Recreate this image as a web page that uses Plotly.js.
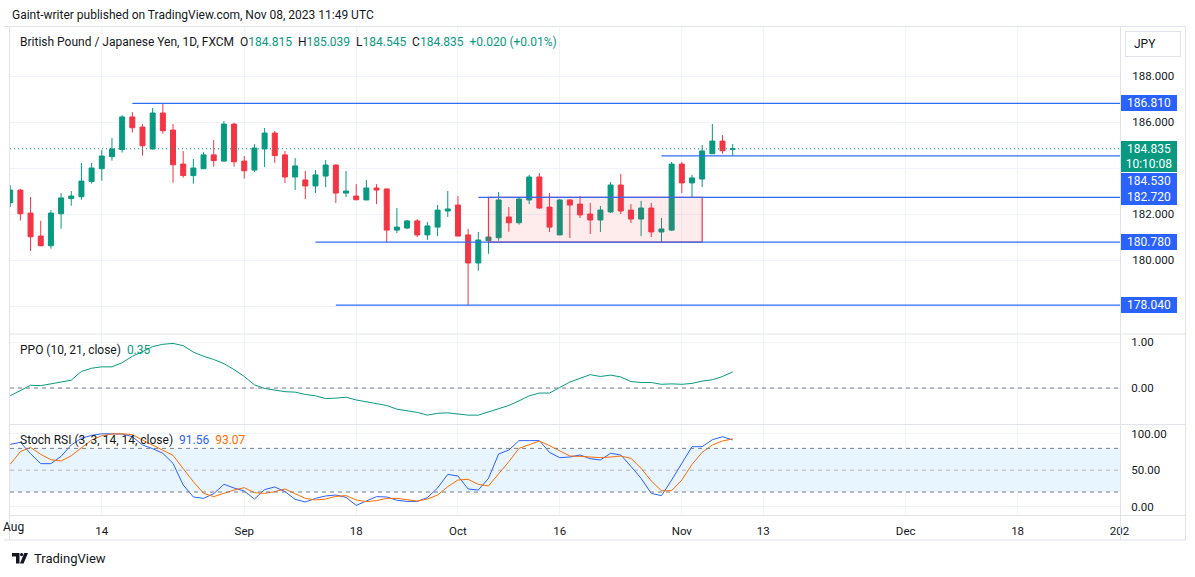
<!DOCTYPE html>
<html><head><meta charset="utf-8">
<script src="https://cdn.plot.ly/plotly-3.0.1.min.js"></script>
<style>html,body{margin:0;padding:0;background:#fff;}#chart{width:1195px;height:577px;}</style>
</head><body><div id="chart"></div>
<script>
// ---------------- data ----------------
const dates = [
 '2023-08-01','2023-08-02','2023-08-03','2023-08-04','2023-08-07','2023-08-08','2023-08-09','2023-08-10','2023-08-11',
 '2023-08-14','2023-08-15','2023-08-16','2023-08-17','2023-08-18','2023-08-21','2023-08-22','2023-08-23','2023-08-24',
 '2023-08-25','2023-08-28','2023-08-29','2023-08-30','2023-08-31',
 '2023-09-01','2023-09-04','2023-09-05','2023-09-06','2023-09-07','2023-09-08','2023-09-11','2023-09-12','2023-09-13',
 '2023-09-14','2023-09-15','2023-09-18','2023-09-19','2023-09-20','2023-09-21','2023-09-22','2023-09-25','2023-09-26',
 '2023-09-27','2023-09-28','2023-09-29',
 '2023-10-02','2023-10-03','2023-10-04','2023-10-05','2023-10-06','2023-10-09','2023-10-10','2023-10-11','2023-10-12',
 '2023-10-13','2023-10-16','2023-10-17','2023-10-18','2023-10-19','2023-10-20','2023-10-23','2023-10-24','2023-10-25',
 '2023-10-26','2023-10-27','2023-10-30','2023-10-31',
 '2023-11-01','2023-11-02','2023-11-03','2023-11-06','2023-11-07','2023-11-08'
];
const openP = [182.49,183.04,182.04,181.04,180.62,182.01,182.67,182.75,183.41,183.97,184.49,184.80,186.22,185.78,184.83,186.39,185.65,184.17,183.67,183.97,184.57,184.30,185.91,
 184.30,183.91,184.83,185.52,184.57,183.61,183.48,183.22,183.65,184.13,182.91,182.78,182.61,183.13,183.09,181.30,181.39,181.70,181.09,181.43,182.13,
 182.39,181.09,179.87,180.84,180.97,181.87,181.62,182.61,183.61,182.30,181.09,182.61,182.43,182.00,181.74,182.09,183.26,182.17,181.78,182.26,181.22,181.30,
 184.17,183.35,183.52,184.62,185.17,184.815];
const highP = [183.25,183.09,182.74,181.70,182.17,182.91,183.00,184.22,184.22,184.78,185.30,186.30,186.43,185.91,186.61,186.80,185.91,184.74,184.39,184.69,185.22,186.04,185.96,
 184.52,185.04,185.74,185.61,184.74,184.43,183.87,183.91,184.35,184.15,183.87,183.30,183.48,183.30,183.09,182.26,181.74,181.78,181.65,182.39,183.00,
 182.78,181.35,181.22,181.22,182.96,182.30,182.74,183.70,183.78,182.91,182.65,182.65,182.78,182.48,182.35,183.39,183.74,182.43,182.57,182.48,181.83,184.26,
 184.26,183.70,185.00,185.91,185.43,185.039];
const lowP = [182.30,181.71,180.39,180.60,180.49,181.36,182.36,182.62,183.32,183.45,184.32,184.67,185.54,184.54,184.80,185.49,183.36,183.58,183.32,183.95,184.06,184.27,184.06,
 183.54,183.83,184.04,184.22,183.35,183.04,182.65,182.91,183.17,182.48,182.74,182.60,182.61,182.43,180.77,181.17,181.35,181.00,180.87,181.04,181.87,
 181.03,178.04,179.53,180.27,180.84,181.23,181.54,182.43,182.22,181.22,181.09,180.96,181.83,181.13,181.22,182.04,182.00,181.61,181.04,181.00,180.74,181.26,
 182.91,182.70,183.17,184.62,184.62,184.545];
const closeP = [183.04,182.01,181.01,180.62,182.04,182.70,182.78,183.43,184.00,184.52,184.83,186.22,185.75,184.97,186.39,185.62,184.14,183.67,184.00,184.57,184.32,185.91,184.27,
 183.88,184.87,185.52,184.54,183.61,184.09,183.22,183.70,184.13,182.91,183.00,182.62,183.13,183.04,181.30,181.43,181.70,181.09,181.48,182.17,182.22,
 181.04,179.87,180.87,181.00,182.61,181.62,182.65,183.61,182.26,181.43,182.61,182.39,181.96,181.74,182.17,183.26,182.13,181.78,182.26,181.22,181.35,184.17,
 183.35,183.57,184.74,185.17,184.75,184.835];
const ppo = [-0.17,-0.05,0.06,0.05,0.09,0.12,0.17,0.36,0.43,0.46,0.46,0.55,0.69,0.79,0.90,0.95,0.97,0.92,0.78,0.69,0.62,0.53,0.40,
 0.25,0.07,-0.01,-0.05,-0.08,-0.09,-0.14,-0.17,-0.23,-0.22,-0.20,-0.26,-0.30,-0.33,-0.38,-0.46,-0.49,-0.53,-0.59,-0.55,-0.54,
 -0.56,-0.59,-0.59,-0.52,-0.44,-0.38,-0.28,-0.17,-0.11,-0.11,0.01,0.13,0.21,0.29,0.25,0.28,0.24,0.14,0.12,0.12,0.08,0.09,
 0.08,0.10,0.15,0.18,0.25,0.35];
const stochK = [85.5,88.3,72.7,59.0,59.0,69.0,84.6,93.8,97.9,100,100,99.7,96.1,84.6,79.6,73.2,59.4,29.7,13.2,11.3,17.8,30.6,25.5,
 21.4,10.4,23.3,27.0,20.6,10.0,6.3,11.3,14.6,15.9,12.7,1.7,8.2,13.7,13.2,8.7,7.2,7.2,12.3,25.6,44.3,
 42.0,24.2,22.8,38.8,72.3,77.7,90.6,90.6,90.6,74.5,67.2,68.1,70.9,65.8,64.0,73.2,70.9,55.3,38.8,18.2,15.0,36.5,
 59.4,82.3,82.3,91.9,96.0,91.56];
const stochD = [58.1,75.5,81.4,71.8,64.4,62.6,69.9,81.0,91.5,97.4,99.7,100,98.8,91.5,84.6,77.7,70.4,52.1,34.2,18.2,13.7,18.2,22.8,
 26.0,19.1,18.2,20.5,24.2,17.3,11.3,9.1,10.4,14.1,15.0,9.1,6.8,8.2,11.3,11.3,9.9,7.6,10.4,15.9,27.4,
 36.5,37.5,30.6,28.4,44.3,61.7,80.0,85.5,90.1,83.7,76.4,69.5,69.0,67.7,67.2,68.1,69.5,66.3,52.6,35.2,21.9,21.9,
 36.5,58.0,74.5,84.6,90.1,93.07];
const tickDates  = ['2023-08-14','2023-09-01','2023-09-18','2023-10-02','2023-10-16','2023-11-01','2023-11-13','2023-12-01','2023-12-18','2024-01-01'];
const tickLabels = ['14','Sep','18','Oct','16','Nov','13','Dec','18','202'];
const levelPrices = [186.81, 184.53, 182.72, 180.78, 178.04];
const levelStarts = ['2023-08-17','2023-10-30','2023-10-04','2023-09-12','2023-09-14'];
const zoneStart = '2023-10-05', zoneEnd = '2023-11-03', zoneLow = 180.78, zoneHigh = 182.72;
const priceTicks = [178,180,182,184,186,188];
const priceTickText = ['','180.000','182.000','','186.000','188.000'];

// ---------------- helpers ----------------
const calendar = [];
(function(){ let t = Date.UTC(2023,7,1); const end = Date.UTC(2024,0,12);
  while (t <= end) { const d = new Date(t), wd = d.getUTCDay();
    if (wd !== 0 && wd !== 6) calendar.push(d.toISOString().slice(0,10)); t += 86400000; } })();
const idx = s => calendar.indexOf(s);
const xs = dates.map(idx);

const L = 10, R = 1120, T = 28, B = 515;
const px2x = px => (px - L) / (R - L);
const px2y = py => (B - py) / (B - T);
const xRange = [-0.02, 109.06];

const GREEN = '#089981', RED = '#f23645', BLUE = '#2962ff', ORANGE = '#ff6d00', TXT = '#131722', SEP = '#e0e3eb', GRID = '#f0f3fa';

// ---------------- traces ----------------
const traces = [
  { type:'candlestick', x: xs, open: openP, high: highP, low: lowP, close: closeP, xaxis:'x', yaxis:'y',
    increasing:{ line:{color:GREEN, width:1}, fillcolor:GREEN },
    decreasing:{ line:{color:RED, width:1}, fillcolor:RED },
    whiskerwidth:0, hoverinfo:'skip', showlegend:false },
  { type:'scatter', mode:'lines', x: xs, y: ppo, xaxis:'x', yaxis:'y2', line:{color:GREEN, width:1}, hoverinfo:'skip', showlegend:false },
  { type:'scatter', mode:'lines', x: xs, y: stochK, xaxis:'x', yaxis:'y3', line:{color:BLUE, width:1}, hoverinfo:'skip', showlegend:false },
  { type:'scatter', mode:'lines', x: xs, y: stochD, xaxis:'x', yaxis:'y3', line:{color:ORANGE, width:1}, hoverinfo:'skip', showlegend:false }
];

// ---------------- shapes ----------------
const shapes = [];
shapes.push({type:'rect', xref:'paper', yref:'y3', x0:0, x1:1, y0:20, y1:80, fillcolor:'rgba(33,150,243,0.1)', line:{width:0}, layer:'below'});
shapes.push({type:'rect', xref:'x', yref:'y', x0:idx(zoneStart), x1:idx(zoneEnd), y0:zoneLow, y1:zoneHigh,
  fillcolor:'rgba(242,54,69,0.1)', line:{color:RED, width:1.2}, layer:'above'});
levelPrices.forEach((p,i)=>{
  shapes.push({type:'line', xref:'x', yref:'y', x0:idx(levelStarts[i]), x1:xRange[1], y0:p, y1:p, line:{color:'#2f6cf5', width:1.3}});
});
shapes.push({type:'line', xref:'paper', yref:'y', x0:0, x1:1, y0:closeP[closeP.length-1], y1:closeP[closeP.length-1], line:{color:GREEN, width:1, dash:'1px,3px'}});
shapes.push({type:'line', xref:'paper', yref:'y2', x0:0, x1:1, y0:0, y1:0, line:{color:'#787b86', width:1, dash:'4px,4px'}});
shapes.push({type:'line', xref:'paper', yref:'y3', x0:0, x1:1, y0:80, y1:80, line:{color:'#787b86', width:1, dash:'4px,4px'}});
shapes.push({type:'line', xref:'paper', yref:'y3', x0:0, x1:1, y0:20, y1:20, line:{color:'#787b86', width:1, dash:'4px,4px'}});
shapes.push({type:'line', xref:'paper', yref:'y3', x0:0, x1:1, y0:50, y1:50, line:{color:'rgba(120,123,134,0.5)', width:1, dash:'4px,4px'}});
const sepLine = (x0,y0,x1,y1) => ({type:'line', xref:'paper', yref:'paper', x0:px2x(x0), y0:px2y(y0), x1:px2x(x1), y1:px2y(y1), line:{color:SEP, width:1}, layer:'above'});
shapes.push(sepLine(4,26.5,1186,26.5));
shapes.push(sepLine(9.5,26.5,9.5,540));
shapes.push(sepLine(1185.5,26.5,1185.5,540));
shapes.push(sepLine(4,540,1186,540));
shapes.push(sepLine(1120.5,26.5,1120.5,540));
shapes.push(sepLine(9.5,334,1185.5,334));
shapes.push(sepLine(9.5,424.5,1185.5,424.5));
shapes.push(sepLine(9.5,515.5,1185.5,515.5));
const P = (x,y) => px2x(x).toFixed(5) + ',' + px2y(y).toFixed(5);
shapes.push({type:'path', xref:'paper', yref:'paper', path:'M'+P(12,553)+' L'+P(19.5,553)+' L'+P(19.5,563.5)+' L'+P(16,563.5)+' L'+P(16,556.5)+' L'+P(12,556.5)+' Z', fillcolor:TXT, line:{width:0}});
shapes.push({type:'circle', xref:'paper', yref:'paper', x0:px2x(20), x1:px2x(23.2), y0:px2y(553), y1:px2y(556.2), fillcolor:TXT, line:{width:0}});
shapes.push({type:'path', xref:'paper', yref:'paper', path:'M'+P(24.3,553)+' L'+P(28,553)+' L'+P(23.6,563.5)+' L'+P(19.9,563.5)+' Z', fillcolor:TXT, line:{width:0}});

// ---------------- annotations ----------------
const FONT = 'Roboto, "Open Sans", sans-serif';
const last = closeP.length - 1;
const g = s => '<span style="color:'+GREEN+'">'+s+'</span>';
const sp = '\u00a0\u00a0';
const annotations = [];
const txt = (text, px, py, size, extra) => Object.assign({xref:'paper', yref:'paper', x:px2x(px), y:px2y(py), xanchor:'left', yanchor:'middle',
  text:text, showarrow:false, font:{family:FONT, size:size, color:TXT}}, extra||{});
annotations.push(txt('Gaint-writer published on TradingView.com, Nov 08, 2023 11:49 UTC', 10, 14.5, 12));
annotations.push(txt('British Pound / Japanese Yen, 1D, FXCM'+sp+'O'+g(openP[last].toFixed(3))+sp+'H'+g(highP[last].toFixed(3))+sp+'L'+g(lowP[last].toFixed(3))+sp+'C'+g(closeP[last].toFixed(3))+sp+g('+0.020 (+0.01%)'), 18, 42, 12));
annotations.push(txt('PPO (10, 21, close)'+sp+g(ppo[last].toFixed(2)), 18, 350, 12));
annotations.push(txt('Stoch RSI (3, 3, 14, 14, close)'+sp+'<span style="color:'+BLUE+'">'+stochK[last].toFixed(2)+'</span>'+sp+'<span style="color:'+ORANGE+'">'+stochD[last].toFixed(2)+'</span>', 18, 440, 12));
annotations.push(txt('TradingView', 32, 558.5, 13));
annotations.push(txt('Aug', 1, 527, 12));
annotations.push({xref:'paper', yref:'paper', x:px2x(1125), y:px2y(44), xanchor:'left', yanchor:'middle', text:'\u00a0\u00a0JPY', align:'left',
  width:50, height:20, borderpad:2, bordercolor:SEP, borderwidth:1, bgcolor:'#fff', showarrow:false, font:{family:FONT, size:12, color:TXT}});
const priceLabel = (p, bg, yshift, text, h) => ({xref:'paper', yref:'y', x:1, y:p, xanchor:'left', yanchor:'middle', xshift:1, yshift:yshift||0,
  text: text || p.toFixed(3), showarrow:false, bgcolor:bg, bordercolor:bg, borderwidth:0, borderpad:1, width:54, height:h||14, align:'center',
  font:{family:FONT, size:12, color:'#ffffff'}});
annotations.push(priceLabel(levelPrices[0], BLUE));
annotations.push(priceLabel(levelPrices[2], BLUE));
annotations.push(priceLabel(levelPrices[3], BLUE));
annotations.push(priceLabel(levelPrices[4], BLUE));
annotations.push(priceLabel(levelPrices[1], BLUE, -25));
annotations.push(Object.assign(priceLabel(closeP[last], GREEN, 0, closeP[last].toFixed(3)+'<br>10:10:08', 29), {yanchor:'top', yshift:8}));

// ---------------- layout ----------------
const axFont = {family:FONT, size:11.5, color:TXT};
const layout = {
  width:1195, height:577, paper_bgcolor:'#fff', plot_bgcolor:'#fff',
  margin:{l:L, r:1195-R, t:T, b:577-B, pad:0},
  showlegend:false, dragmode:false, hovermode:false,
  font:{family:FONT, color:TXT},
  xaxis:{ type:'linear', range:xRange, anchor:'y3', tickvals: tickDates.map(idx), ticktext: tickLabels,
    showgrid:true, gridcolor:GRID, gridwidth:1, zeroline:false, showline:false, ticks:'outside', ticklen:5, tickcolor:'rgba(0,0,0,0)',
    tickfont:axFont, rangeslider:{visible:false}, fixedrange:true },
  yaxis:{ domain:[px2y(334), 1], range:[188 - (334-76)/23, 188 + (76-28)/23], side:'right', anchor:'x',
    tickvals:priceTicks, ticktext:priceTickText, showgrid:true, gridcolor:GRID, zeroline:false, showline:false,
    ticks:'outside', ticklen:9, tickcolor:'rgba(0,0,0,0)', tickfont:axFont, fixedrange:true },
  yaxis2:{ domain:[px2y(424.5), px2y(334.5)], range:[(388-424.5)/46, (388-334.5)/46], side:'right', anchor:'x',
    tickvals:[0,1], ticktext:['0.00','1.00'], showgrid:true, gridcolor:GRID, zeroline:false, showline:false,
    ticks:'outside', ticklen:8, tickcolor:'rgba(0,0,0,0)', tickfont:axFont, fixedrange:true },
  yaxis3:{ domain:[0, px2y(425)], range:[(506.6-515)/0.728, (506.6-425)/0.728], side:'right', anchor:'x',
    tickvals:[0,50,100], ticktext:['0.00','50.00','100.00'], showgrid:true, gridcolor:GRID, zeroline:false, showline:false,
    ticks:'outside', ticklen:8, tickcolor:'rgba(0,0,0,0)', tickfont:axFont, fixedrange:true },
  shapes: shapes, annotations: annotations
};
Plotly.newPlot('chart', traces, layout, {staticPlot:true, displayModeBar:false});
</script>
</body></html>
